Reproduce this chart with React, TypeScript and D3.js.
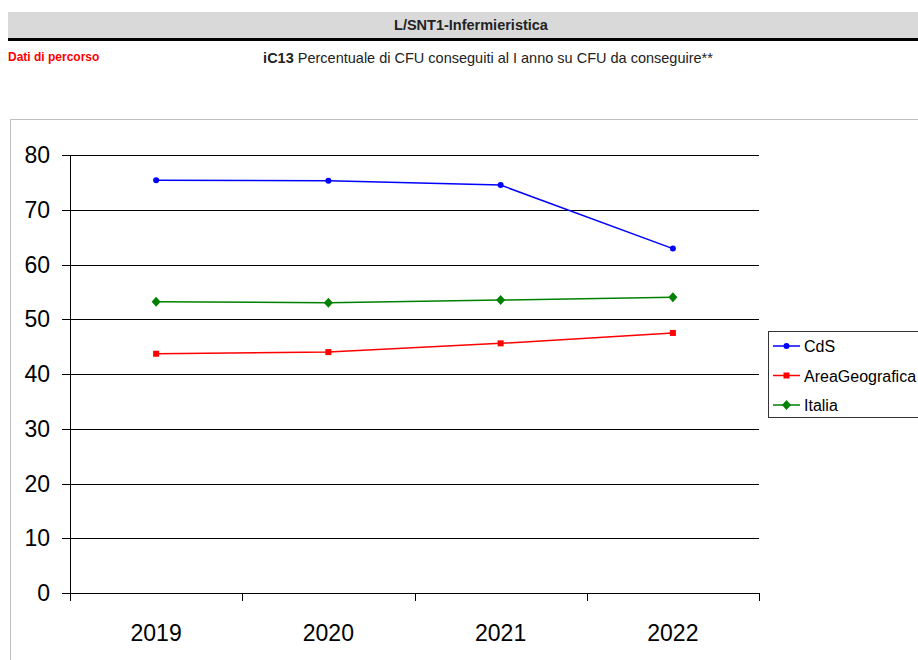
import React from 'react';
import * as d3 from 'd3';

const years = ['2019', '2020', '2021', '2022'];
const cds = [75.4, 75.3, 74.5, 62.9];
const areaGeo = [43.7, 44.0, 45.6, 47.5];
const italia = [53.2, 53.0, 53.5, 54.0];
const yTicks = [0, 10, 20, 30, 40, 50, 60, 70, 80];

const seriesNames = ['CdS', 'AreaGeografica', 'Italia'];
const seriesColors = ['#0000ff', '#ff0000', '#008000'];
const seriesMarkers = ['circle', 'square', 'diamond'];

const font = '"Liberation Sans", Arial, sans-serif';

const W = 918;
const H = 660;

const dims = {
    left: 70,
    right: 759,
    top: 155,
    bottom: 593
};

const Marker = ({type, x, y, color}) => {
    if (type === 'circle') return <circle cx={x} cy={y} r={3} fill={color}/>
    if (type === 'square') return <rect x={x - 3} y={y - 3} width={6} height={6} fill={color}/>
    return <path d={`M${x},${y - 5}L${x + 4.5},${y}L${x},${y + 5}L${x - 4.5},${y}Z`} fill={color}/>
}

const App = () => {

    const xScale = d3.scaleBand()
        .domain(years)
        .range([dims.left, dims.right])

    const yScale = d3.scaleLinear()
        .domain([0, 80])
        .range([dims.bottom, dims.top])

    const data = [cds, areaGeo, italia]

    const lineGen = d3.line()
        .x((d, i) => xScale(years[i]) + xScale.bandwidth() / 2)
        .y(d => yScale(d))

    const xTickPos = years.map(y => xScale(y)).concat([dims.right])

    return (
        <svg width={W} height={H} style={{position: 'absolute', left: 0, top: 0, background: '#fff'}}>
            {/* header */}
            <rect x={8} y={12} width={W - 8} height={26} fill='#d9d9d9'/>
            <rect x={8} y={38} width={W - 8} height={3} fill='#000'/>
            <text x={471} y={30} textAnchor='middle' fontFamily={font} fontWeight='bold' fontSize={14.5} fill='#222'>L/SNT1-Infermieristica</text>
            <text x={8} y={61} fontFamily={font} fontWeight='bold' fontSize={12} fill='#ff0000'>Dati di percorso</text>
            <text x={488} y={63} textAnchor='middle' fontFamily={font} fontSize={14.5} fill='#222'>
                <tspan fontWeight='bold'>iC13</tspan> Percentuale di CFU conseguiti al I anno su CFU da conseguire**
            </text>

            {/* chart frame */}
            <path d={`M10.5,${H}V119.5H${W}`} fill='none' stroke='#bfbfbf'/>

            {/* gridlines */}
            {yTicks.map(t => (
                <g key={t}>
                    <line x1={dims.left - 8} x2={dims.right} y1={Math.round(yScale(t)) + 0.5} y2={Math.round(yScale(t)) + 0.5} stroke='#000'/>
                    <text x={50} y={yScale(t) + 8} textAnchor='end' fontFamily={font} fontSize={23} fill='#000'>{t}</text>
                </g>
            ))}
            <line x1={dims.left + 0.5} x2={dims.left + 0.5} y1={dims.top} y2={dims.bottom + 8} stroke='#000'/>
            {xTickPos.map((x, i) => (
                <line key={i} x1={Math.round(x) + 0.5} x2={Math.round(x) + 0.5} y1={dims.bottom} y2={dims.bottom + 8} stroke='#000'/>
            ))}
            {years.map(y => (
                <text key={y} x={xScale(y) + xScale.bandwidth() / 2} y={641} textAnchor='middle' fontFamily={font} fontSize={23} fill='#000'>{y}</text>
            ))}

            {/* series */}
            {data.map((s, k) => (
                <g key={k}>
                    <path d={lineGen(s)} fill='none' stroke={seriesColors[k]} strokeWidth={1.5}/>
                    {s.map((v, i) => (
                        <Marker key={i} type={seriesMarkers[k]} x={xScale(years[i]) + xScale.bandwidth() / 2} y={yScale(v)} color={seriesColors[k]}/>
                    ))}
                </g>
            ))}

            {/* legend */}
            <rect x={768.5} y={331.5} width={160} height={86} fill='#fff' stroke='#333'/>
            {seriesNames.map((n, k) => (
                <g key={n}>
                    <line x1={773} x2={800} y1={346 + k * 29.5} y2={346 + k * 29.5} stroke={seriesColors[k]} strokeWidth={1.5}/>
                    <Marker type={seriesMarkers[k]} x={786.5} y={346 + k * 29.5} color={seriesColors[k]}/>
                    <text x={804} y={352 + k * 29.5} fontFamily={font} fontSize={16} fill='#000'>{n}</text>
                </g>
            ))}
        </svg>
    );
}

export default App;
